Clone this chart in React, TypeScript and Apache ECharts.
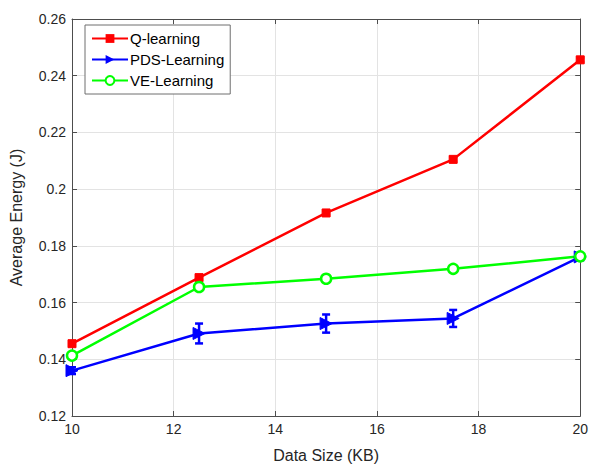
import React, { useEffect, useRef } from "react";
import * as echarts from "echarts";

// Data sizes (KB) on the x axis
const dataSize = [10, 12.5, 15, 17.5, 20];

// Mean energy per scheme (J)
const qLearning = [0.1455, 0.1688, 0.1916, 0.2105, 0.2456];
const pdsLearning = [0.136, 0.1491, 0.1526, 0.1544, 0.1761];
const veLearning = [0.1413, 0.1655, 0.1684, 0.1719, 0.1763];

// Half-width of the error bars (J)
const qErr = [0.0008, 0.0008, 0.0008, 0.0008, 0.0008];
const pdsErr = [0.0012, 0.0035, 0.0032, 0.003, 0.0012];
const veErr = [0.0008, 0.0008, 0.0008, 0.0008, 0.0008];

const FONT = "'Liberation Sans', Arial, sans-serif";

function errorBarSeries(name: string, color: string, values: number[], errs: number[]) {
  const data = dataSize.map((x, i) => [x, values[i] - errs[i], values[i] + errs[i]]);
  return {
    type: "custom",
    name,
    data,
    z: 3,
    encode: { x: 0, y: [1, 2] },
    renderItem: (params: any, api: any) => {
      const x = api.value(0);
      const lo = api.coord([x, api.value(1)]);
      const hi = api.coord([x, api.value(2)]);
      const cap = 4;
      const style = { stroke: color, lineWidth: 2.5, fill: "none" };
      return {
        type: "group",
        children: [
          { type: "line", shape: { x1: lo[0], y1: lo[1], x2: hi[0], y2: hi[1] }, style },
          { type: "line", shape: { x1: lo[0] - cap, y1: lo[1], x2: lo[0] + cap, y2: lo[1] }, style },
          { type: "line", shape: { x1: hi[0] - cap, y1: hi[1], x2: hi[0] + cap, y2: hi[1] }, style },
        ],
      };
    },
  };
}

function lineSeries(name: string, color: string, values: number[], symbol: string, size: number, extra: any = {}) {
  return {
    type: "line",
    name,
    data: dataSize.map((x, i) => [x, values[i]]),
    symbol,
    symbolSize: size,
    showSymbol: true,
    lineStyle: { color, width: 2.5 },
    itemStyle: { color, borderColor: color },
    z: 4,
    ...extra,
  };
}

export default function App() {
  const ref = useRef<HTMLDivElement>(null);

  useEffect(() => {
    document.body.style.margin = "0";
    const chart = echarts.init(ref.current!, undefined, { renderer: "svg" });
    const labelFmt = (v: number) => String(Number(v.toFixed(2)));
    const axisLine = { show: true, lineStyle: { color: "#4d4d4d", width: 1 } };
    const axisTick = { show: true, inside: true, length: 5, lineStyle: { color: "#4d4d4d" } };
    const split = { show: true, lineStyle: { color: "#e3e3e3", width: 1 } };

    chart.setOption({
      animation: false,
      backgroundColor: "#ffffff",
      textStyle: { fontFamily: FONT },
      grid: { left: 72, right: 8, top: 19, bottom: 50, containLabel: false },
      legend: {
        show: true,
        orient: "vertical",
        left: 85,
        top: 25,
        padding: [6, 6, 6, 6],
        itemGap: 6,
        itemWidth: 36,
        itemHeight: 11,
        backgroundColor: "#ffffff",
        borderColor: "#6e6e6e",
        borderWidth: 1,
        borderRadius: 0,
        textStyle: { fontFamily: FONT, fontSize: 15, color: "#000000", padding: [0, 0, 0, -3] },
        data: ["Q-learning", "PDS-Learning", "VE-Learning"],
      },
      xAxis: [
        {
          type: "value",
          min: 10,
          max: 20,
          interval: 2,
          name: "Data Size (KB)",
          nameLocation: "middle",
          nameGap: 31,
          nameTextStyle: { fontFamily: FONT, fontSize: 16, color: "#262626" },
          axisLine,
          axisTick,
          splitLine: split,
          axisLabel: { fontFamily: FONT, fontSize: 14, color: "#262626", margin: 6, formatter: labelFmt },
        },
        {
          type: "value",
          position: "top",
          min: 10,
          max: 20,
          interval: 2,
          axisLine,
          axisTick,
          splitLine: { show: false },
          axisLabel: { show: false },
        },
      ],
      yAxis: [
        {
          type: "value",
          min: 0.12,
          max: 0.26,
          interval: 0.02,
          name: "Average Energy (J)",
          nameLocation: "middle",
          nameGap: 48,
          nameTextStyle: { fontFamily: FONT, fontSize: 16, color: "#262626" },
          axisLine,
          axisTick,
          splitLine: split,
          axisLabel: { fontFamily: FONT, fontSize: 14, color: "#262626", margin: 6, formatter: labelFmt },
        },
        {
          type: "value",
          position: "right",
          min: 0.12,
          max: 0.26,
          interval: 0.02,
          axisLine,
          axisTick,
          splitLine: { show: false },
          axisLabel: { show: false },
        },
      ],
      series: [
        lineSeries("Q-learning", "#ff0000", qLearning, "rect", 8),
        errorBarSeries("Q-learning", "#ff0000", qLearning, qErr),
        lineSeries("PDS-Learning", "#0000ff", pdsLearning, "triangle", 12, { symbolRotate: -90 }),
        errorBarSeries("PDS-Learning", "#0000ff", pdsLearning, pdsErr),
        lineSeries("VE-Learning", "#00ff00", veLearning, "circle", 10, {
          itemStyle: { color: "#ffffff", borderColor: "#00ff00", borderWidth: 2.5 },
        }),
        errorBarSeries("VE-Learning", "#00ff00", veLearning, veErr),
      ],
    });
    return () => chart.dispose();
  }, []);

  return <div ref={ref} style={{ width: 591, height: 468 }} />;
}
